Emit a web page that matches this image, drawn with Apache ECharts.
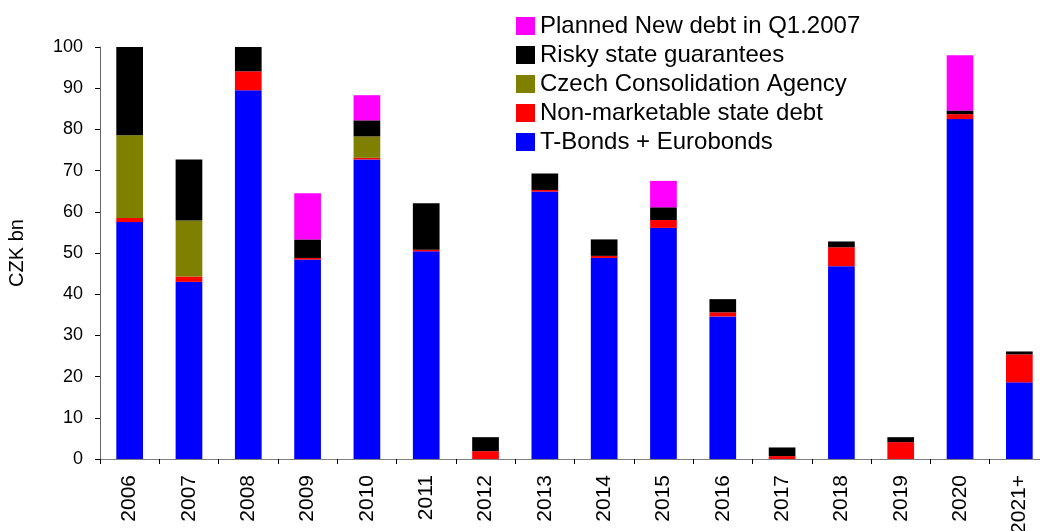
<!DOCTYPE html>
<html>
<head>
<meta charset="utf-8">
<title>Debt redemption profile</title>
<script src="https://cdn.jsdelivr.net/npm/echarts@6/dist/echarts.min.js"></script>
<style>
  html, body { margin: 0; padding: 0; background: #fff; }
  #chart { width: 1040px; height: 531px; }
</style>
</head>
<body>
<div id="chart"></div>
<script>
// Redemption years
const years = ['2006', '2007', '2008', '2009', '2010', '2011', '2012', '2013',
               '2014', '2015', '2016', '2017', '2018', '2019', '2020', '2021+'];

// CZK bn per year, stacked bottom to top
const tBonds        = [57.5, 43.0, 89.5, 48.4, 72.7, 50.4, 0, 64.9, 48.8, 56.1, 34.6, 0, 46.8, 0, 82.5, 18.6];
const nonMarketable = [1.0, 1.3, 4.6, 0.4, 0.4, 0.4, 1.9, 0.4, 0.5, 1.9, 1.0, 0.7, 4.6, 4.1, 1.2, 6.8];
const consolidation = [20.1, 13.6, 0, 0, 5.2, 0, 0, 0, 0, 0, 0, 0, 0, 0, 0, 0];
const guarantees    = [23.0, 14.8, 7.0, 4.5, 3.9, 11.3, 3.4, 4.0, 4.0, 3.1, 3.2, 2.1, 1.4, 1.2, 0.9, 0.7];
const plannedNew    = [0, 0, 0, 11.2, 6.1, 0, 0, 0, 0, 6.4, 0, 0, 0, 0, 13.4, 0];

const yTicks = { min: 0, max: 100, step: 10 };

const FONT = '"Liberation Sans", Arial, sans-serif';

const layers = [
  { name: 'T-Bonds + Eurobonds',          data: tBonds,        color: '#0000FF' },
  { name: 'Non-marketable state debt',    data: nonMarketable, color: '#FF0000' },
  { name: 'Czech Consolidation Agency',   data: consolidation, color: '#808000' },
  { name: 'Risky state guarantees',       data: guarantees,    color: '#000000' },
  { name: 'Planned New debt in Q1.2007',  data: plannedNew,    color: '#FF00FF' }
];

const chart = echarts.init(document.getElementById('chart'), null, { renderer: 'canvas' });

chart.setOption({
  animation: false,
  backgroundColor: '#ffffff',
  textStyle: { fontFamily: FONT },
  grid: {
    left: 100,
    top: 47,
    width: 949,
    height: 412,
    containLabel: false,
    outerBoundsMode: 'none'
  },
  legend: {
    orient: 'vertical',
    left: 516,
    top: 14,
    padding: 0,
    itemWidth: 19,
    itemHeight: 18,
    itemGap: 5,
    icon: 'rect',
    data: layers.map(l => l.name).reverse(),
    textStyle: { fontFamily: FONT, fontSize: 24, color: '#000' },
    selectedMode: false
  },
  xAxis: {
    type: 'category',
    data: years,
    axisLine: { lineStyle: { color: '#808080', width: 1 } },
    axisTick: { show: true, alignWithLabel: false, length: 5, lineStyle: { color: '#000' } },
    axisLabel: {
      rotate: 90,
      interval: 0,
      margin: 16,
      fontFamily: FONT,
      fontSize: 21,
      color: '#000'
    },
    splitLine: { show: false }
  },
  yAxis: {
    type: 'value',
    min: yTicks.min,
    max: yTicks.max,
    interval: yTicks.step,
    name: 'CZK bn',
    nameLocation: 'middle',
    nameGap: 73,
    nameRotate: 90,
    nameTextStyle: { fontFamily: FONT, fontSize: 20, color: '#000' },
    axisLine: { show: true, lineStyle: { color: '#666666', width: 1 } },
    axisTick: { show: true, inside: false, length: 5, lineStyle: { color: '#000' } },
    axisLabel: { fontFamily: FONT, fontSize: 18, color: '#000', margin: 17 },
    splitLine: { show: false }
  },
  series: layers.map(l => ({
    name: l.name,
    type: 'bar',
    stack: 'debt',
    barWidth: '45%',
    clip: true,
    data: l.data,
    itemStyle: { color: l.color },
    emphasis: { disabled: true }
  }))
});
</script>
</body>
</html>
